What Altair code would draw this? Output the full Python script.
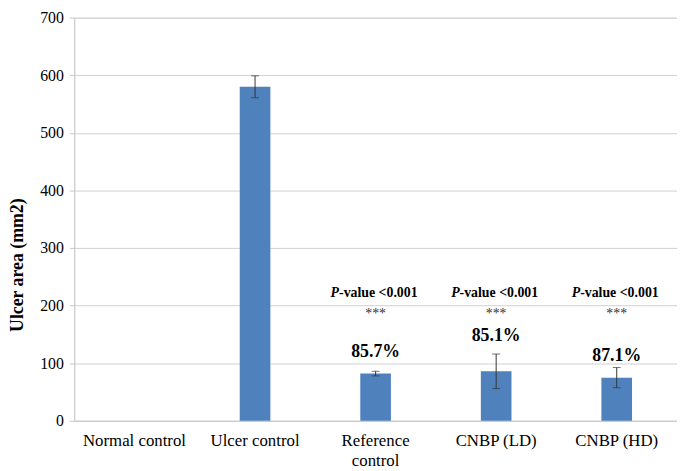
import altair as alt
import pandas as pd

categories = ["Normal control", "Ulcer control", "Reference control", "CNBP (LD)", "CNBP (HD)"]
means = [0, 580, 82, 86, 75]
errors = [0, 19, 4, 30, 17.5]
pct_labels = ["", "", "85.7%", "85.1%", "87.1%"]
pct_label_y = [0, 0, 120, 147, 113]
pval_text = ["", "", "-value <0.001", "-value <0.001", "-value <0.001"]
stars_text = ["", "", "***", "***", "***"]
y_ticks = [0, 100, 200, 300, 400, 500, 600, 700]

FONT = "Liberation Serif"

df = pd.DataFrame({
    "cat": categories,
    "mean": means,
    "lo": [m - e for m, e in zip(means, errors)],
    "hi": [m + e for m, e in zip(means, errors)],
    "pct": pct_labels,
    "pct_y": pct_label_y,
    "pval": pval_text,
    "stars": stars_text,
})
df_err = df[[e > 0 for e in errors]]
df_ann = df[[p != "" for p in pct_labels]]

x = alt.X("cat:N", sort=categories, title=None,
          scale=alt.Scale(paddingInner=0, paddingOuter=0),
          axis=alt.Axis(labelAngle=0, ticks=False, labelFont=FONT, labelFontSize=17,
                        labelPadding=12, labelLineHeight=20, labelBaseline="top",
                        labelExpr="datum.label == 'Reference control' ? ['Reference', 'control'] : datum.label"))
yscale = alt.Scale(domain=[0, 700], nice=False)

bars = alt.Chart(df).mark_bar(size=31, color="#4f81bd").encode(
    x=x,
    y=alt.Y("mean:Q", scale=yscale, title="Ulcer area (mm2)",
            axis=alt.Axis(values=y_ticks, labelFont=FONT, labelFontSize=16,
                          tickSize=5, labelPadding=6, titleFont=FONT,
                          titleFontSize=18, titleFontWeight="bold",
                          titleX=-57, titleY=250, titleAlign="center", titleBaseline="middle"))
)

xs = alt.X("cat:N", sort=categories)

rules = alt.Chart(df_err).mark_rule(color="#333333", strokeWidth=1).encode(
    x=xs, y=alt.Y("lo:Q", scale=yscale), y2="hi:Q")
cap_lo = alt.Chart(df_err).mark_tick(color="#333333", size=8, thickness=1, orient="horizontal").encode(
    x=xs, y=alt.Y("lo:Q", scale=yscale))
cap_hi = alt.Chart(df_err).mark_tick(color="#333333", size=8, thickness=1, orient="horizontal").encode(
    x=xs, y=alt.Y("hi:Q", scale=yscale))

pct = alt.Chart(df_ann).mark_text(font=FONT, fontSize=18, fontWeight="bold", color="#000",
                                  baseline="middle").encode(
    x=xs, y=alt.Y("pct_y:Q", scale=yscale), text="pct:N")

p_italic = alt.Chart(df_ann).mark_text(font=FONT, fontSize=14, fontWeight="bold", fontStyle="italic",
                                       color="#000", align="right", baseline="middle", dx=-37).encode(
    x=xs, y=alt.datum(221, scale=yscale), text=alt.value("P"))
p_rest = alt.Chart(df_ann).mark_text(font=FONT, fontSize=14, fontWeight="bold",
                                     color="#000", align="left", baseline="middle", dx=-37).encode(
    x=xs, y=alt.datum(221, scale=yscale), text="pval:N")
stars = alt.Chart(df_ann).mark_text(font=FONT, fontSize=14, color="#333",
                                    baseline="middle", dy=3).encode(
    x=xs, y=alt.datum(190, scale=yscale), text="stars:N")

chart = alt.layer(bars, rules, cap_lo, cap_hi, pct, p_italic, p_rest, stars).properties(
    width=610, height=408,
    autosize=alt.AutoSizeParams(type="none"),
    padding={"left": 67, "top": 7, "right": 0, "bottom": 48},
).configure_view(stroke=None).configure(background="white", font=FONT).configure_axis(
    labelFont=FONT, titleFont=FONT, labelColor="#000", titleColor="#000",
    domainColor="#c8c8c8", tickColor="#c8c8c8", gridColor="#d0d0d0"
)

chart.save("out.html", embed_options={"renderer": "svg", "actions": False})
